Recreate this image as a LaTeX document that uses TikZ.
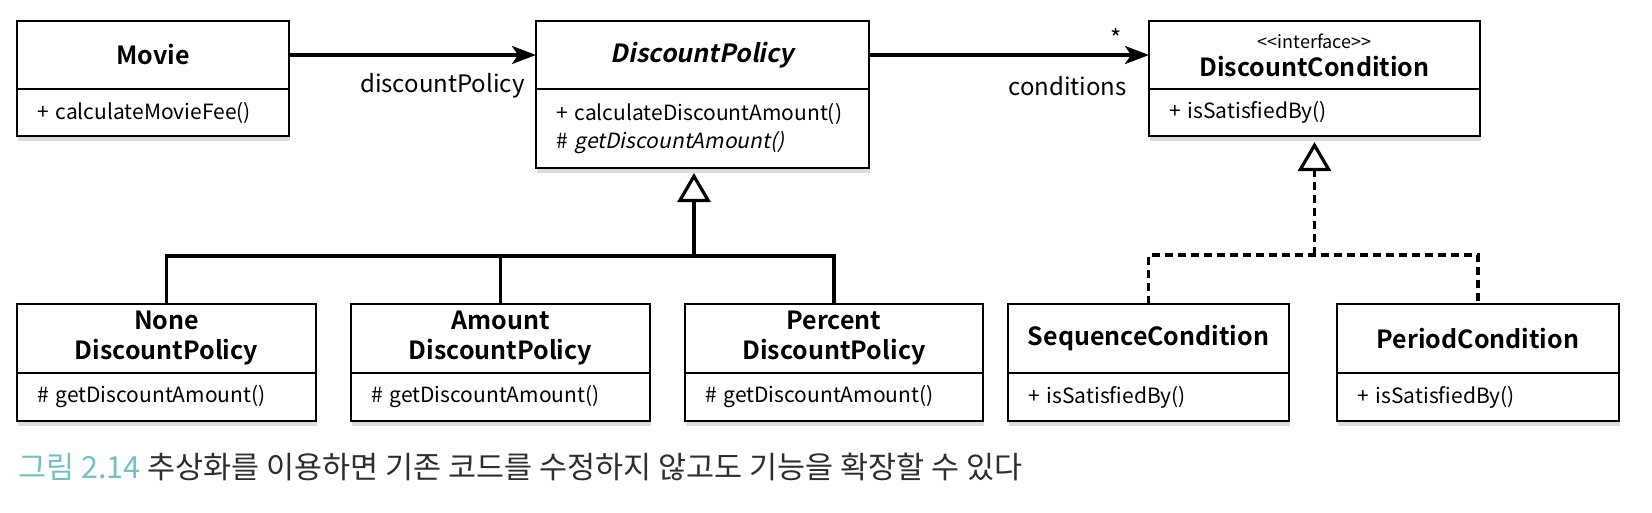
\documentclass[tikz,border=0pt]{standalone}
\usepackage{fontspec}
\setmainfont{Noto Sans CJK KR}[BoldFont={Noto Sans CJK KR Bold}, ItalicFont={Noto Sans CJK KR}, ItalicFeatures={FakeSlant=0.2}, BoldItalicFont={Noto Sans CJK KR Bold}, BoldItalicFeatures={FakeSlant=0.2}]
\usepackage{tikz}
\usetikzlibrary{arrows.meta,shadows,positioning}

\definecolor{capteal}{RGB}{118,190,196}
\definecolor{capgray}{RGB}{45,45,45}

\tikzset{
	classname/.style={draw, line width=2.6pt, fill=white, anchor=north west, outer sep=0pt, minimum height=68pt, align=center, inner sep=0pt,
		font=\fontsize{25}{30}\selectfont\bfseries, drop shadow={shadow xshift=1pt, shadow yshift=-5pt, opacity=.28}},
	classops/.style={draw, line width=2.6pt, fill=white, anchor=north, outer sep=0pt, align=left, inner xsep=20pt, inner ysep=0pt,
		font=\fontsize{21}{28}\selectfont, drop shadow={shadow xshift=1pt, shadow yshift=-5pt, opacity=.28}},
	role/.style={anchor=east, inner sep=0pt, font=\fontsize{24}{28}\selectfont},
	assoc/.style={line width=3.2pt, -{Stealth[length=24pt, width=18pt, inset=6pt]}},
	gen/.style={line width=3.2pt, -{Triangle[open, length=29pt, width=33pt]}},
	real/.style={gen, dash pattern=on 8pt off 5pt},
	branch/.style={line width=3.2pt},
	dbranch/.style={line width=3.2pt, dash pattern=on 8pt off 5pt}
}

\begin{document}
\begin{tikzpicture}[x=1pt,y=-1pt]
	\useasboundingbox (0,0) rectangle (1652,512);
	% top row
	\node[classname, minimum width=272pt] (movie) at (17,21) {Movie};
	\node[classops, text width=232pt, minimum height=47pt] (movie-ops) at (movie.south) {+ calculateMovieFee()};
	\node[classname, minimum width=333pt] (dp) at (536,21) {\textit{DiscountPolicy}};
	\node[classops, text width=293pt, minimum height=79pt] (dp-ops) at (dp.south) {+ calculateDiscountAmount()\\\# \textit{getDiscountAmount()}};
	\node[classname, minimum width=331pt] (dc) at (1149,21) {{\fontsize{18}{22}\selectfont\mdseries <\kern0pt<interface>\kern0pt>}\\[-2pt]DiscountCondition};
	\node[classops, text width=291pt, minimum height=47pt] (dc-ops) at (dc.south) {+ isSatisfiedBy()};
	% bottom row
	\node[classname, minimum width=299pt, minimum height=69pt] (none) at (17,304) {None\\DiscountPolicy};
	\node[classops, text width=259pt, minimum height=48pt] (none-ops) at (none.south) {\# getDiscountAmount()};
	\node[classname, minimum width=299pt, minimum height=69pt] (amount) at (351,304) {Amount\\DiscountPolicy};
	\node[classops, text width=259pt, minimum height=48pt] (amount-ops) at (amount.south) {\# getDiscountAmount()};
	\node[classname, minimum width=298pt, minimum height=69pt] (percent) at (685,304) {Percent\\DiscountPolicy};
	\node[classops, text width=258pt, minimum height=48pt] (percent-ops) at (percent.south) {\# getDiscountAmount()};
	\node[classname, minimum width=281pt, minimum height=69pt] (sequence) at (1008,304) {SequenceCondition};
	\node[classops, text width=241pt, minimum height=48pt] (sequence-ops) at (sequence.south) {+ isSatisfiedBy()};
	\node[classname, minimum width=282pt, minimum height=69pt] (period) at (1337,304) {PeriodCondition};
	\node[classops, text width=242pt, minimum height=48pt] (period-ops) at (period.south) {+ isSatisfiedBy()};

	% associations
	\draw[assoc] (movie.east) -- (dp.west);
	\node[role] (movie-role) at (525,86) {discountPolicy};
	\draw[assoc] (dp.east) -- (dc.west);
	\node[role] (dc-role) at (1127,86) {conditions};
	\node[inner sep=0pt, font=\fontsize{24}{26}\selectfont] (dc-mult) at (1116,38) {*};

	% generalization
	\coordinate (dp-join) at (694,256);
	\draw[gen, shorten >=5pt] (dp-join) -- (dp-ops.south -| dp-join);
	\draw[branch] (none.north) |- (dp-join) -| (percent.north);
	\draw[branch] (amount.north) -- (amount.north |- dp-join);

	% realization
	\coordinate (dc-join) at (dc-ops.south |- 0,255);
	\draw[real, shorten >=6pt] (dc-join) -- (dc-ops.south);
	\draw[dbranch] (sequence.north) |- (dc-join) -| (period.north);

	\node[anchor=west, inner sep=0pt, font=\fontsize{30.5}{34}\selectfont, text=capgray] (caption) at (18,467)
		{\textcolor{capteal}{그림 2.14} 추상화를 이용하면 기존 코드를 수정하지 않고도 기능을 확장할 수 있다};
\end{tikzpicture}
\end{document}
